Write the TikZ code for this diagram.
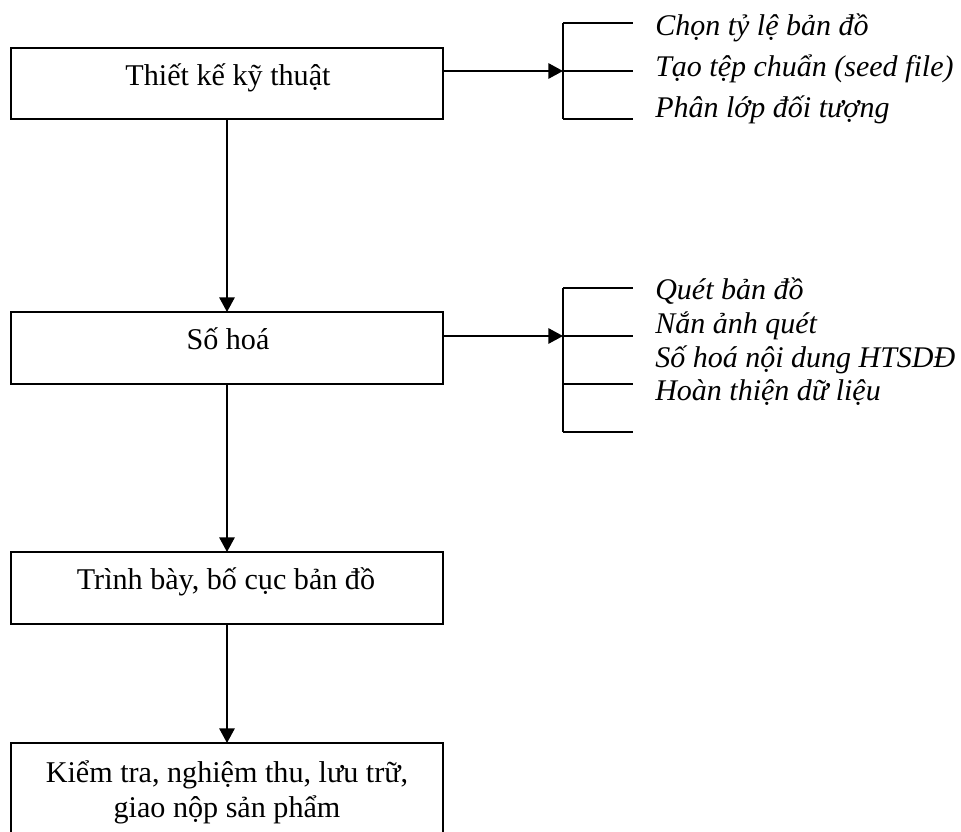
\documentclass[tikz,border=0pt]{standalone}
\usepackage{fontspec}
\setmainfont{Liberation Serif}
\usetikzlibrary{arrows.meta}
\begin{document}
\begin{tikzpicture}[x=0.75pt,y=-0.75pt,
  box/.style={draw, line width=1.5pt, inner sep=0pt, outer sep=0pt, minimum width=324pt},
  txt/.style={inner sep=0pt, anchor=base, font=\fontsize{22.6}{26}\selectfont},
  itx/.style={inner sep=0pt, anchor=base west, font=\fontsize{22.5}{26}\selectfont\itshape},
  arr/.style={line width=1.5pt, -{Triangle[length=11pt, width=11.5pt]}},
  ln/.style={line width=1.5pt}]
\useasboundingbox (0,0) rectangle (961,832);
\clip (0,0) rectangle (961,832);
% boxes
\node[box, minimum height=53.25pt] (b1) at (227,83.5) {};
\node[box, minimum height=54pt] (b2) at (227,348) {};
\node[box, minimum height=54pt] (b3) at (227,588) {};
\node[box, minimum height=75pt] (b4) at (227,793) {};
% box texts
\node[txt] (t1) at (228,85) {Thiết kế kỹ thuật};
\node[txt] (t2) at (228,349) {Số hoá};
\node[txt] (t3) at (226,589) {Trình bày, bố cục bản đồ};
\node[txt] (t4a) at (227,782) {Kiểm tra, nghiệm thu, lưu trữ,};
\node[txt] (t4b) at (227,817) {giao nộp sản phẩm};
% vertical arrows
\draw[arr] (b1.south) -- (b2.north);
\draw[arr] (b2.south) -- (b3.north);
\draw[arr] (b3.south) -- (b4.north);
% bracket 1
\coordinate (k1) at (563,71);
\coordinate (k1t) at (563,23);
\coordinate (k1b) at (563,119);
\draw[arr] (b1.east |- k1) -- (k1);
\draw[ln] (k1t) -- (k1b);
\draw[ln] (k1t) -- ++(70,0);
\draw[ln] (k1) -- ++(70,0);
\draw[ln] (k1b) -- ++(70,0);
\node[itx] (r1) at (655,35) {Chọn tỷ lệ bản đồ};
\node[itx] (r2) at (655,76) {Tạo tệp chuẩn (seed file)};
\node[itx] (r3) at (655,117) {Phân lớp đối tượng};
% bracket 2
\coordinate (k2) at (563,336);
\coordinate (k2t) at (563,288);
\coordinate (k2c) at (563,384);
\coordinate (k2b) at (563,432);
\draw[arr] (b2.east |- k2) -- (k2);
\draw[ln] (k2t) -- (k2b);
\draw[ln] (k2t) -- ++(70,0);
\draw[ln] (k2) -- ++(70,0);
\draw[ln] (k2c) -- ++(70,0);
\draw[ln] (k2b) -- ++(70,0);
\node[itx] (s1) at (655,299) {Quét bản đồ};
\node[itx] (s2) at (655,333) {Nắn ảnh quét};
\node[itx] (s3) at (655,367) {Số hoá nội dung HTSDĐ};
\node[itx] (s4) at (655,400) {Hoàn thiện dữ liệu};
\end{tikzpicture}
\end{document}
